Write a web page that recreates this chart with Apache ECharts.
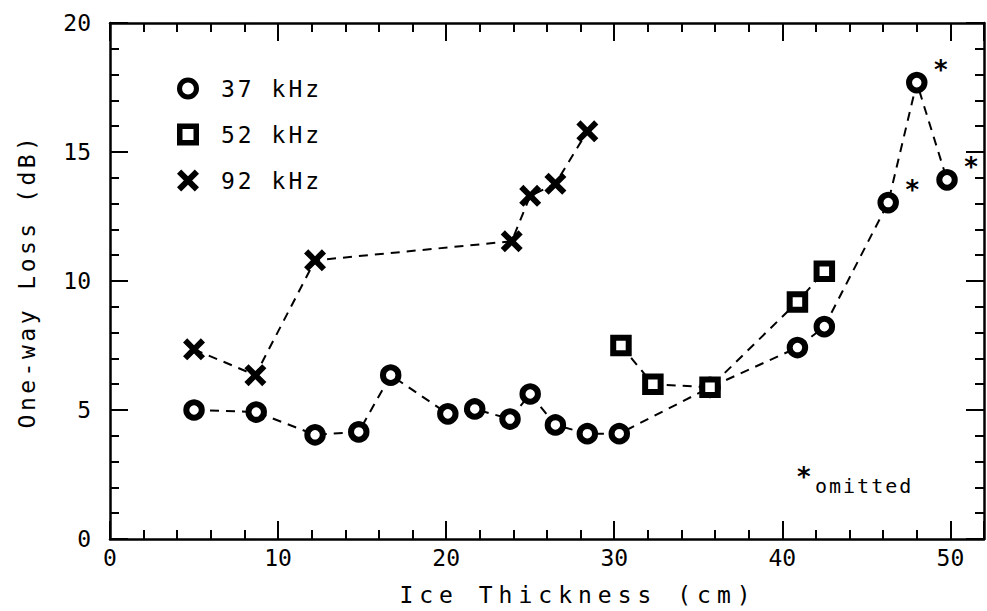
<!DOCTYPE html>
<html><head><meta charset="utf-8">
<script src="https://cdn.jsdelivr.net/npm/echarts@6/dist/echarts.min.js"></script>
<style>html,body{margin:0;padding:0;background:#fff}#chart{width:987px;height:611px}</style>
</head><body><div id="chart"></div>
<script>
// ---- data ----
const xTickLabels = [0, 10, 20, 30, 40, 50];
const yTickLabels = [0, 5, 10, 15, 20];
const seriesNames = ['37 kHz', '52 kHz', '92 kHz'];

const thick37 = [5.0, 8.7, 12.2, 14.8, 16.7, 20.1, 21.7, 23.8, 25.0, 26.5, 28.4, 30.3, 35.7, 40.9, 42.5, 46.3, 48.0, 49.8];
const loss37  = [5.0, 4.92, 4.04, 4.15, 6.35, 4.85, 5.04, 4.65, 5.62, 4.42, 4.08, 4.08, 5.88, 7.42, 8.23, 13.04, 17.69, 13.92];
const omitted37 = [0, 0, 0, 0, 0, 0, 0, 0, 0, 0, 0, 0, 0, 0, 0, 1, 1, 1];

const thick52 = [30.4, 32.3, 35.7, 40.9, 42.5];
const loss52  = [7.5, 6.0, 5.88, 9.19, 10.38];

const thick92 = [5.0, 8.65, 12.2, 23.9, 25.0, 26.5, 28.4];
const loss92  = [7.35, 6.35, 10.8, 11.54, 13.3, 13.77, 15.8];

const xTitle = 'Ice Thickness (cm)';
const yTitle = 'One-way Loss (dB)';
const noteText = 'omitted';

// ---- styling ----
const FONT = "'DejaVu Sans Mono', monospace";
const BLACK = '#000';
const X_PATH = 'path://M0,1.9L1.9,0L5,3.1L8.1,0L10,1.9L6.9,5L10,8.1L8.1,10L5,6.9L1.9,10L0,8.1L3.1,5Z';
const RING_PATH = 'path://M5,0A5,5 0 1,1 5,10A5,5 0 1,1 5,0ZM5,2.3A2.7,2.7 0 1,0 5,7.7A2.7,2.7 0 1,0 5,2.3Z';
const BOX_PATH = 'path://M0,0H10V10H0ZM2.5,2.5V7.5H7.5V2.5Z';
const ringStyle = {color: '#fff', borderColor: BLACK, borderWidth: 6};
const crossStyle = {color: BLACK, borderWidth: 0};
const solidIcon = {color: BLACK, borderWidth: 0};
const dash = {color: BLACK, width: 2, type: [9, 7]};

const chart = echarts.init(document.getElementById('chart'), null, {renderer: 'svg'});

function xAxisDef(position, interval, tickLen, showLine, showLabel) {
  return {
    type: 'value', gridIndex: 0, position: position, min: 0, max: 52, interval: interval,
    axisLine: {show: showLine, onZero: false, lineStyle: {color: BLACK, width: 2.5}},
    axisTick: {show: true, inside: true, length: tickLen, lineStyle: {color: BLACK, width: 2}},
    axisLabel: {show: showLabel, margin: 7, color: BLACK, fontFamily: FONT, fontSize: 23,
      formatter: v => xTickLabels.includes(v) ? String(v) : ''},
    splitLine: {show: false}
  };
}
function yAxisDef(position, showLabel) {
  return {
    type: 'value', gridIndex: 0, position: position, min: 0, max: 20, interval: 5,
    axisLine: {show: true, onZero: false, lineStyle: {color: BLACK, width: 2.5}},
    axisTick: {show: true, inside: true, length: 18, lineStyle: {color: BLACK, width: 2}},
    minorTick: {show: true, splitNumber: 5, length: 9, lineStyle: {color: BLACK, width: 2}},
    axisLabel: {show: showLabel, margin: 19, color: BLACK, fontFamily: FONT, fontSize: 23,
      formatter: v => yTickLabels.includes(v) ? String(v) : ''},
    splitLine: {show: false}, minorSplitLine: {show: false}
  };
}

const xMain = xAxisDef('bottom', 10, 18, true, true);
xMain.name = xTitle;
xMain.nameLocation = 'middle';
xMain.nameGap = 44;
xMain.nameTextStyle = {color: BLACK, fontFamily: FONT, fontSize: 23, padding: [0, 0, 0, 62]};

const yMain = yAxisDef('left', true);
yMain.name = yTitle;
yMain.nameLocation = 'middle';
yMain.nameGap = 72;
yMain.nameTextStyle = {color: BLACK, fontFamily: FONT, fontSize: 23};

const option = {
  animation: false,
  backgroundColor: '#fff',
  grid: {left: 110, right: -7, top: 23, bottom: 68},
  xAxis: [
    xMain,
    xAxisDef('bottom', 2, 9, false, false),
    xAxisDef('top', 10, 18, true, false),
    xAxisDef('top', 2, 9, false, false)
  ],
  yAxis: [yMain, yAxisDef('right', false)],
  legend: {
    orient: 'vertical', left: 172, top: 72, itemWidth: 22, itemHeight: 22, itemGap: 23,
    selectedMode: false,
    textStyle: {color: BLACK, fontFamily: FONT, fontSize: 23, lineHeight: 20, padding: [0, 0, 0, 17]},
    data: [
      {name: seriesNames[0], icon: RING_PATH, itemStyle: solidIcon},
      {name: seriesNames[1], icon: BOX_PATH, itemStyle: solidIcon},
      {name: seriesNames[2], icon: X_PATH, itemStyle: crossStyle}
    ]
  },
  graphic: [
    {type: 'text', left: 797, top: 464, style: {text: '*', fill: BLACK, font: "bold 26px 'DejaVu Sans'"}},
    {type: 'text', left: 815, top: 476, style: {text: noteText, fill: BLACK, font: "20px 'DejaVu Sans Mono'"}}
  ],
  series: [
    {
      name: seriesNames[0], type: 'line', xAxisIndex: 0, yAxisIndex: 0,
      data: thick37.map((x, i) => omitted37[i] ? {value: [x, loss37[i]], label: {show: true}} : [x, loss37[i]]),
      symbol: 'circle', symbolSize: 15.5, itemStyle: ringStyle, lineStyle: dash,
      label: {show: false, formatter: '*', position: 'inside', offset: [24, -13],
        color: BLACK, fontFamily: 'DejaVu Sans', fontSize: 26, fontWeight: 'bold'},
      emphasis: {disabled: true}
    },
    {
      name: seriesNames[1], type: 'line', xAxisIndex: 0, yAxisIndex: 0,
      data: thick52.map((x, i) => [x, loss52[i]]),
      symbol: 'rect', symbolSize: 15.5, itemStyle: ringStyle, lineStyle: dash,
      emphasis: {disabled: true}
    },
    {
      name: seriesNames[2], type: 'line', xAxisIndex: 0, yAxisIndex: 0,
      data: thick92.map((x, i) => [x, loss92[i]]),
      symbol: X_PATH, symbolSize: 22, itemStyle: crossStyle, lineStyle: dash,
      emphasis: {disabled: true}
    }
  ]
};
chart.setOption(option);

// wider letter spacing, like the plotter lettering of the original
const spacing = {};
spacing[xTitle] = '6px';
spacing[yTitle] = '3.5px';
seriesNames.forEach(n => spacing[n] = '3px');
spacing[noteText] = '2px';
function applySpacing() {
  document.querySelectorAll('#chart text').forEach(t => {
    const s = spacing[t.textContent];
    if (s) t.style.letterSpacing = s;
  });
}
applySpacing();
chart.on('finished', applySpacing);
setTimeout(applySpacing, 50);
</script>
</body></html>
